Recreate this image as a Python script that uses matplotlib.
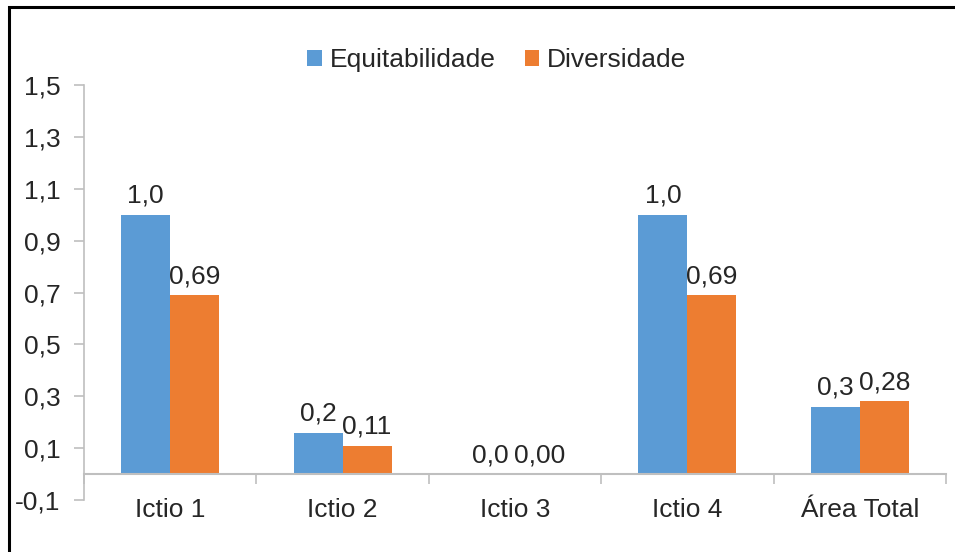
import matplotlib.pyplot as plt
from matplotlib.patches import Rectangle
import numpy as np

plt.rcParams['font.family'] = ['Liberation Sans', 'DejaVu Sans']

categories = ["Ictio 1", "Ictio 2", "Ictio 3", "Ictio 4", "Área Total"]
equitabilidade = [1.0, 0.16, 0.0, 1.0, 0.26]
diversidade = [0.69, 0.11, 0.0, 0.69, 0.28]
yticks = [-0.1, 0.1, 0.3, 0.5, 0.7, 0.9, 1.1, 1.3, 1.5]

BLUE = "#5B9BD5"
ORANGE = "#ED7D31"
TEXT = "#262626"
AXIS = "#BFBFBF"
FS = 19


def fmt(v, nd):
    return f"{v:.{nd}f}".replace(".", ",")


fig = plt.figure(figsize=(9.55, 5.52), dpi=100)
ax = fig.add_axes([84 / 955, 52 / 552, 862 / 955, 415 / 552])

x = np.arange(len(categories))
w = 0.284
b1 = ax.bar(x - w / 2, equitabilidade, w, color=BLUE, label="Equitabilidade")
b2 = ax.bar(x + w / 2, diversidade, w, color=ORANGE, label="Diversidade")

for bars, vals, nd in ((b1, equitabilidade, 1), (b2, diversidade, 2)):
    for r, v in zip(bars, vals):
        ax.annotate(fmt(v, nd), (r.get_x() + r.get_width() / 2, v),
                    xytext=(0, 5), textcoords="offset points",
                    ha="center", va="bottom", fontsize=FS, color=TEXT)

ax.set_xlim(-0.5, len(categories) - 0.5)
ax.set_ylim(-0.1, 1.5)
ax.set_yticks(yticks)
ax.set_yticklabels([fmt(t, 1) for t in yticks])

# category labels sit under the middle, tick marks at the boundaries
ax.set_xticks(x)
ax.set_xticklabels(categories)
ax.set_xticks(np.arange(len(categories) + 1) - 0.5, minor=True)
ax.tick_params(axis="x", which="major", length=0, pad=17, labelsize=FS, labelcolor=TEXT)
ax.tick_params(axis="x", which="minor", length=7, color=AXIS, width=1.2, direction="out")
ax.tick_params(axis="y", length=7, color=AXIS, width=1.2, labelsize=FS,
               labelcolor=TEXT, pad=10)

for s in ("top", "right"):
    ax.spines[s].set_visible(False)
ax.spines["bottom"].set_position(("data", 0))
ax.spines["bottom"].set_color(AXIS)
ax.spines["bottom"].set_linewidth(1.5)
ax.spines["left"].set_color(AXIS)
ax.spines["left"].set_linewidth(1.2)

fig.legend(loc="center", bbox_to_anchor=(497 / 955, 1 - 60 / 552), ncol=2,
           frameon=False, fontsize=FS, handlelength=0.55, handleheight=0.55,
           handletextpad=0.3, columnspacing=1.1, labelcolor=TEXT)

# outer frame
fig.patches.append(Rectangle((9 / 955, -0.1), 1.2, 1.1 - 7 / 552,
                             transform=fig.transFigure, fill=False,
                             edgecolor="black", linewidth=2.2))

fig.savefig("out.png", dpi=100)
